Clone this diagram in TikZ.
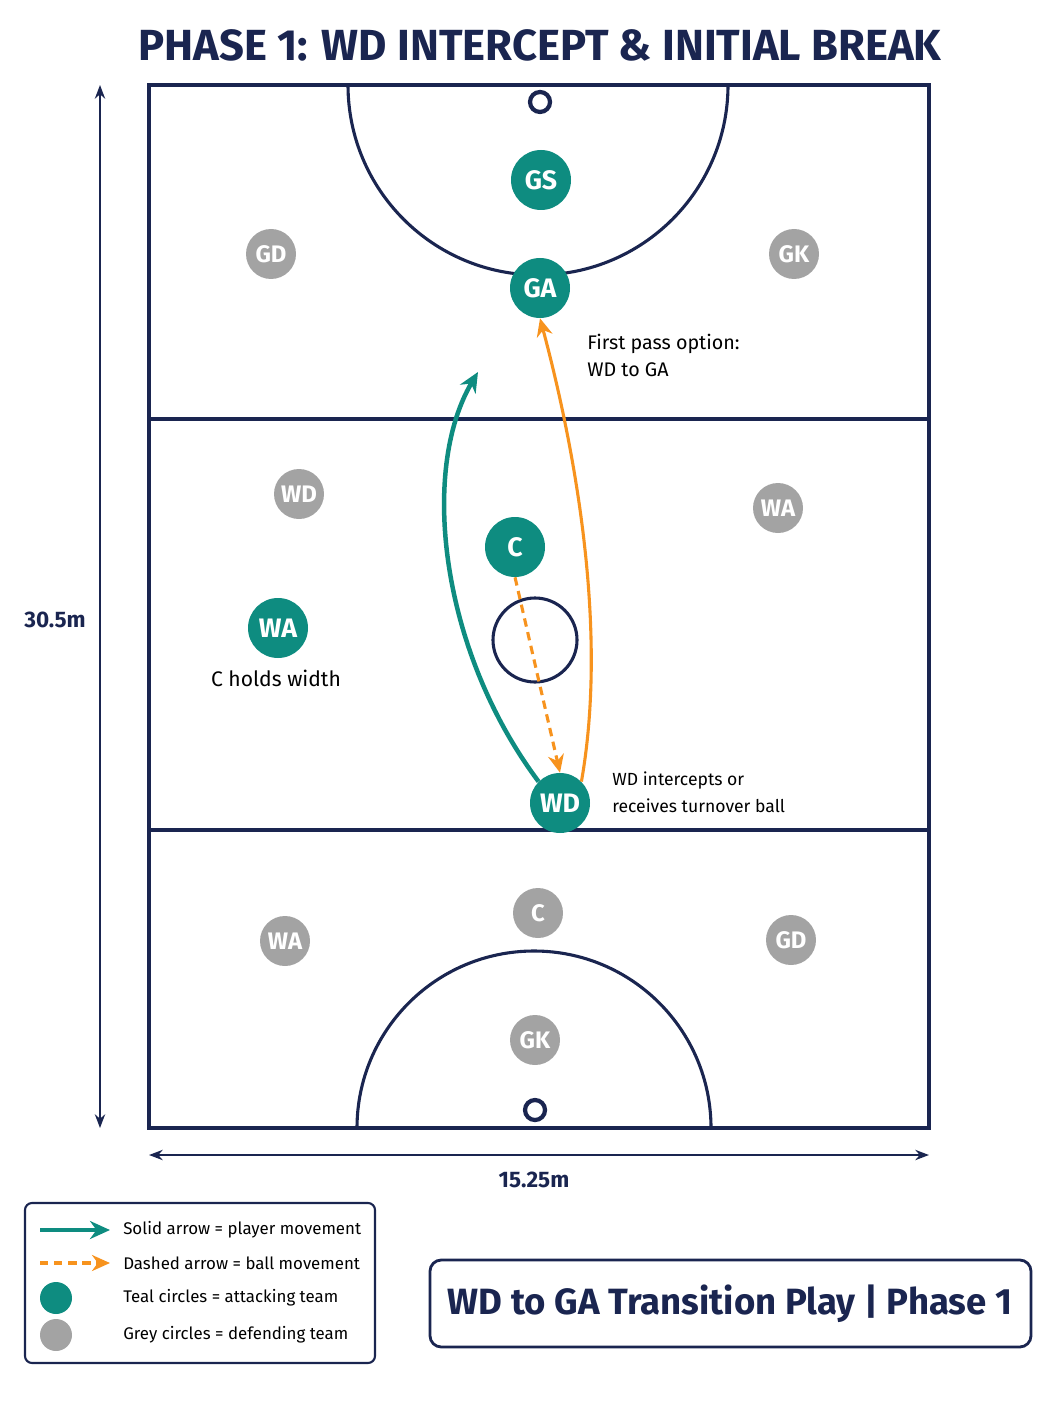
\documentclass[tikz,border=0pt]{standalone}
\usepackage{fontspec}
\setmainfont{Fira Sans}
\usetikzlibrary{arrows.meta}
\definecolor{navy}{HTML}{1A2550}
\definecolor{teal}{HTML}{0E8C80}
\definecolor{greyp}{HTML}{A3A3A3}
\definecolor{orng}{HTML}{F7931E}
\begin{document}
\begin{tikzpicture}[x=0.25mm,y=-0.25mm,
  line/.style={navy,line width=2.2pt},
  att/.style={circle,fill=teal,text=white,font=\bfseries\fontsize{19}{19}\selectfont,minimum size=15mm,inner sep=0pt},
  def/.style={circle,fill=greyp,text=white,font=\bfseries\fontsize{17}{17}\selectfont,minimum size=12.5mm,inner sep=0pt},
  move/.style={teal,line width=3.2pt,-{Stealth[length=5mm,width=4.5mm]}},
  ball/.style={orng,line width=2.2pt,-{Stealth[length=4.5mm,width=4mm]}},
  pass/.style={ball,dash pattern=on 6pt off 4pt},
  note/.style={font=\fontsize{14}{19}\selectfont,align=left,anchor=north west,inner sep=0pt},
  key/.style={font=\fontsize{12}{12}\selectfont,anchor=west,inner sep=0pt}]
  \useasboundingbox (0,0) rectangle (1056,1408);

  % title
  \node[navy,font=\bfseries\fontsize{31}{31}\selectfont] (title) at (540,45) {PHASE 1: WD INTERCEPT \& INITIAL BREAK};

  % court
  \draw[line] (149,85) rectangle (929,1128);
  \draw[line] (149,419) -- (929,419);
  \draw[line] (149,830) -- (929,830);
  \draw[line] (348,85) arc[start angle=180,end angle=0,radius=190];
  \draw[line] (357,1128) arc[start angle=180,end angle=360,radius=177];
  \draw[line,line width=3pt] (540,102) circle[radius=10];
  \draw[line,line width=3pt] (535,1110) circle[radius=10];
  \draw[line] (535,640) circle[radius=42];

  % dimensions
  \draw[navy,line width=1.5pt,{Stealth}-{Stealth}] (100,85) -- (100,1128);
  \node[navy,font=\bfseries\fontsize{16}{16}\selectfont] (len) at (55,620) {30.5m};
  \draw[navy,line width=1.5pt,{Stealth}-{Stealth}] (149,1155) -- (929,1155);
  \node[navy,font=\bfseries\fontsize{16}{16}\selectfont] (wid) at (534,1180) {15.25m};

  % defending team
  \node[def] (dGD1) at (271,254) {GD};
  \node[def] (dGK1) at (794,254) {GK};
  \node[def] (dWD) at (299,494) {WD};
  \node[def] (dWA1) at (778,508) {WA};
  \node[def] (dWA2) at (285,941) {WA};
  \node[def] (dC) at (538,913) {C};
  \node[def] (dGD2) at (791,940) {GD};
  \node[def] (dGK2) at (535,1040) {GK};

  % attacking team
  \node[att] (GS) at (541,180) {GS};
  \node[att] (GA) at (540,288) {GA};
  \node[att] (C) at (515,547) {C};
  \node[att] (WA) at (278,628) {WA};
  \node[att] (WD) at (560,803) {WD};
  \coordinate (run) at (478,372);

  % movement
  \draw[move] (WD.north west) .. controls (440,650) and (420,470) .. (run);
  \draw[ball] (WD.north east) .. controls (610,620) and (570,430) .. (GA.south);
  \draw[pass] (C.south) -- (WD.north);

  % notes
  \node[note] (n1) at (587,334) {First pass option:\\WD to GA};
  \node[font=\fontsize{15}{15}\selectfont] (n2) at (276,678) {C holds width};
  \node[note,font=\fontsize{12.5}{19}\selectfont] (n3) at (612,772) {WD intercepts or\\receives turnover ball};

  % legend
  \draw[navy,line width=1.5pt,rounded corners=5pt] (25,1203) rectangle (375,1363);
  \draw[move] (40,1230) -- (110,1230);
  \node[key] (l1) at (123,1230) {Solid arrow = player movement};
  \draw[pass] (40,1263) -- (110,1263);
  \node[key] (l2) at (123,1263) {Dashed arrow = ball movement};
  \fill[teal] (56,1298) circle[radius=16];
  \node[key] (l3) at (123,1298) {Teal circles = attacking team};
  \fill[greyp] (56,1335) circle[radius=16];
  \node[key] (l4) at (123,1335) {Grey circles = defending team};

  % caption
  \draw[navy,line width=2pt,rounded corners=8pt] (430,1260) rectangle (1031,1347);
  \node[navy,font=\bfseries\fontsize{26}{26}\selectfont] (cap) at (730,1304) {WD to GA Transition Play | Phase 1};
\end{tikzpicture}
\end{document}
